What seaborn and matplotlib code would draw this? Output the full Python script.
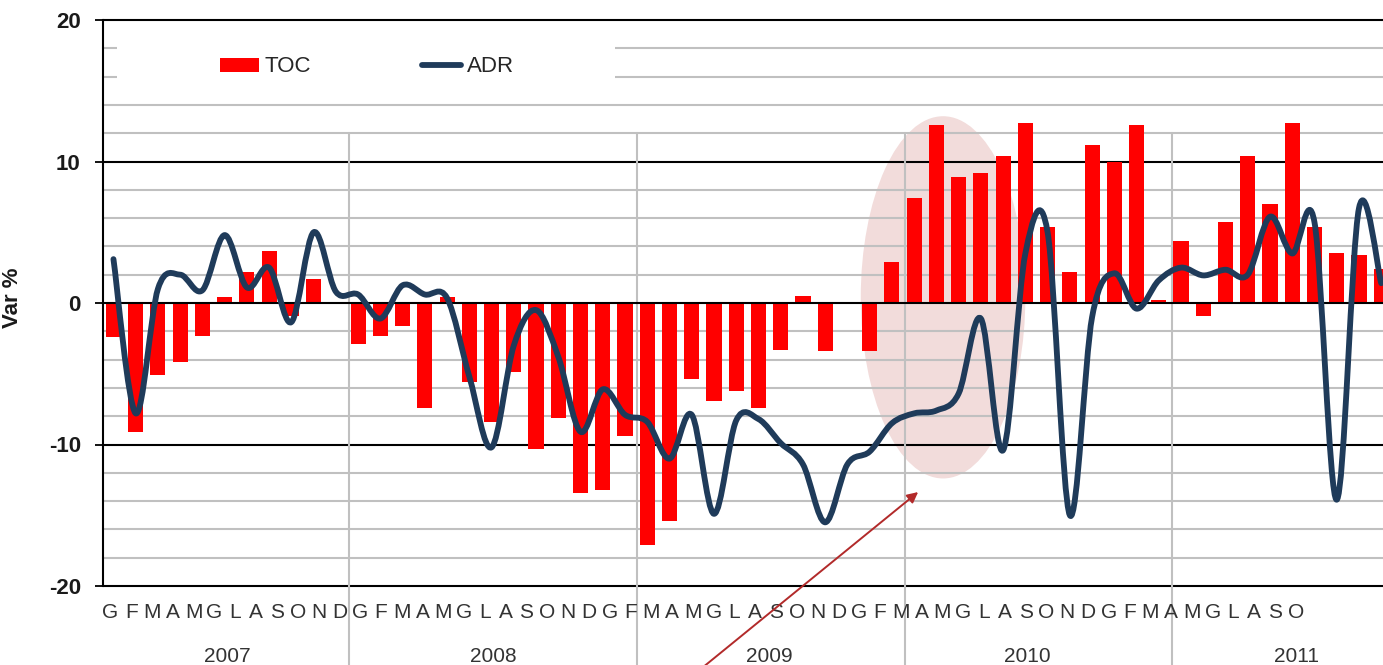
import numpy as np
import pandas as pd
import matplotlib
matplotlib.use('Agg')
import matplotlib.pyplot as plt
import matplotlib.transforms as mtransforms
import seaborn as sns
from matplotlib.path import Path
from matplotlib.patches import PathPatch, Ellipse, Rectangle, Patch
from matplotlib.lines import Line2D

# --- dati (variazione % mensile) ---
toc = [-2.4, -9.1, -5.1, -4.2, -2.3, 0.4, 2.2, 3.7, -0.9, 1.7, 0.0, -2.9,
       -2.3, -1.6, -7.4, 0.4, -5.6, -8.4, -4.9, -10.3, -8.1, -13.4, -13.2, -9.4,
       -17.1, -15.4, -5.4, -6.9, -6.2, -7.4, -3.3, 0.5, -3.4, 0.0, -3.4, 2.9,
       7.4, 12.6, 8.9, 9.2, 10.4, 12.7, 5.4, 2.2, 11.2, 10.0, 12.6, 0.2,
       4.4, -0.9, 5.7, 10.4, 7.0, 12.7, 5.4, 3.5, 3.4, 2.4]
adr = [3.1, -7.8, 1.0, 2.0, 0.9, 4.8, 1.1, 2.5, -1.35, 5.0, 0.8, 0.6,
       -1.1, 1.25, 0.6, 0.35, -5.2, -10.2, -3.0, -0.5, -3.8, -9.1, -6.1, -7.9,
       -8.4, -11.0, -7.9, -14.9, -8.3, -8.2, -9.9, -11.4, -15.5, -11.4, -10.5, -8.5,
       -7.8, -7.6, -6.4, -1.1, -10.4, 3.5, 5.0, -15.0, -1.0, 2.1, -0.4, 1.6,
       2.5, 1.95, 2.35, 2.0, 6.1, 3.5, 5.7, -13.9, 6.7, 1.4]
mesi = ['G', 'F', 'M', 'A', 'M', 'G', 'L', 'A', 'S', 'O', 'N', 'D']
etichette_mesi = mesi * 4 + mesi[:10]
anni = ['2007', '2008', '2009', '2010', '2011']

# posizioni (layout) del grafico originale
sep_anni = [10.6, 23.55, 35.6, 47.6]
centro_anni = [5.1, 17.1, 29.5, 41.1, 53.2]

ROSSO = '#ff0000'
BLU = '#1f3b5a'

sns.set_style('white')
plt.rcParams['font.family'] = ['Liberation Sans', 'DejaVu Sans']

fig = plt.figure(figsize=(13.83, 6.65), dpi=100)
ax = fig.add_axes([103 / 1383, 1 - 586 / 665, 1280 / 1383, 566 / 665])

n = len(toc)
df = pd.DataFrame({'mese': np.arange(n), 'TOC': toc})
sns.barplot(data=df, x='mese', y='TOC', color=ROSSO, saturation=1, width=0.68,
            errorbar=None, linewidth=0, ax=ax, zorder=2)

# linea ADR smussata (Bezier come in Excel)
x = np.arange(n, dtype=float)
y = np.array(adr, dtype=float)
verts = [(x[0], y[0])]
codes = [Path.MOVETO]
for i in range(n - 1):
    a = i - 1 if i > 0 else i
    b = i + 2 if i + 2 < n else i + 1
    c1 = (x[i] + (x[i + 1] - x[a]) / 6, y[i] + (y[i + 1] - y[a]) / 6)
    c2 = (x[i + 1] - (x[b] - x[i]) / 6, y[i + 1] - (y[b] - y[i]) / 6)
    verts += [c1, c2, (x[i + 1], y[i + 1])]
    codes += [Path.CURVE4] * 3
ax.add_patch(PathPatch(Path(verts, codes), fill=False, edgecolor=BLU, lw=4.2,
                       capstyle='round', joinstyle='round', zorder=3))

ax.set_xlim(-0.47, 57.08)
ax.set_ylim(-20, 20)

# griglia
for v in range(-20, 21, 2):
    if v == 0:
        continue
    col = 'black' if v % 10 == 0 else '#c0c0c0'
    ax.axhline(v, color=col, lw=1.5, zorder=1, clip_on=False)

# evidenziazione
ax.add_patch(Ellipse((37.3, 0.4), 7.4, 25.6, facecolor='#f2dcdb', edgecolor='none', zorder=0.5))

# separatori anni
for xe in sep_anni:
    ax.plot([xe, xe], [12, -27], color='#c0c0c0', lw=1.5, zorder=1.2, clip_on=False)

# box bianco dietro la legenda
ax.add_patch(Rectangle((0.011, 0.87), 0.389, 0.115, transform=ax.transAxes,
                       facecolor='white', edgecolor='none', zorder=1.5))

# assi
for s in ['top', 'right']:
    ax.spines[s].set_visible(False)
ax.spines['left'].set_color('black')
ax.spines['left'].set_linewidth(1.5)
ax.spines['bottom'].set_position(('data', 0))
ax.spines['bottom'].set_color('black')
ax.spines['bottom'].set_linewidth(1.5)
ax.spines['bottom'].set_zorder(2.5)

ax.set_xticks(np.arange(0.5, n - 0.5, 1))
ax.tick_params(axis='x', direction='out', length=5, width=1.3, color='black',
               labelbottom=False)
ax.set_yticks([-20, -10, 0, 10, 20])
ax.set_yticklabels(['-20', '-10', '0', '10', '20'], fontweight='bold', fontsize=16,
                   color='#1a1a1a')
ax.tick_params(axis='y', direction='out', length=6, width=1.3, color='black', pad=10, left=True)
ax.set_xlabel('')
ax.set_ylabel('Var %', fontweight='bold', fontsize=16, color='#1a1a1a')
ax.yaxis.set_label_coords(-0.0625, 0.51)

# etichette mesi e anni
trans = mtransforms.blended_transform_factory(ax.transData, ax.transAxes)
for i, m in enumerate(etichette_mesi):
    ax.text(-0.13 + i * 0.935, -0.046, m, transform=trans, ha='center', va='center',
            fontsize=15, color='#333333')
for xc, a in zip(centro_anni, anni):
    ax.text(xc, -0.124, a, transform=trans, ha='center', va='center',
            fontsize=15, color='#333333')

# freccia
ax.annotate('', xy=(36.18, -13.36), xytext=(26.38, -25.9),
            arrowprops=dict(arrowstyle='-|>', color='#b22a2a', lw=1.4,
                            mutation_scale=16, shrinkA=0, shrinkB=0),
            annotation_clip=False, zorder=4)

# legenda
handles = [Patch(facecolor=ROSSO, edgecolor='none', label='TOC'),
           Line2D([], [], color=BLU, lw=4.2, label='ADR')]
ax.legend(handles=handles, loc='center left', bbox_to_anchor=((220 - 103) / 1280, 0.917),
          ncol=2, frameon=False, fontsize=16, handlelength=1.75, handleheight=0.6,
          handletextpad=0.25, columnspacing=5.0, borderaxespad=0, borderpad=0)

fig.savefig('out.png', dpi=100)
